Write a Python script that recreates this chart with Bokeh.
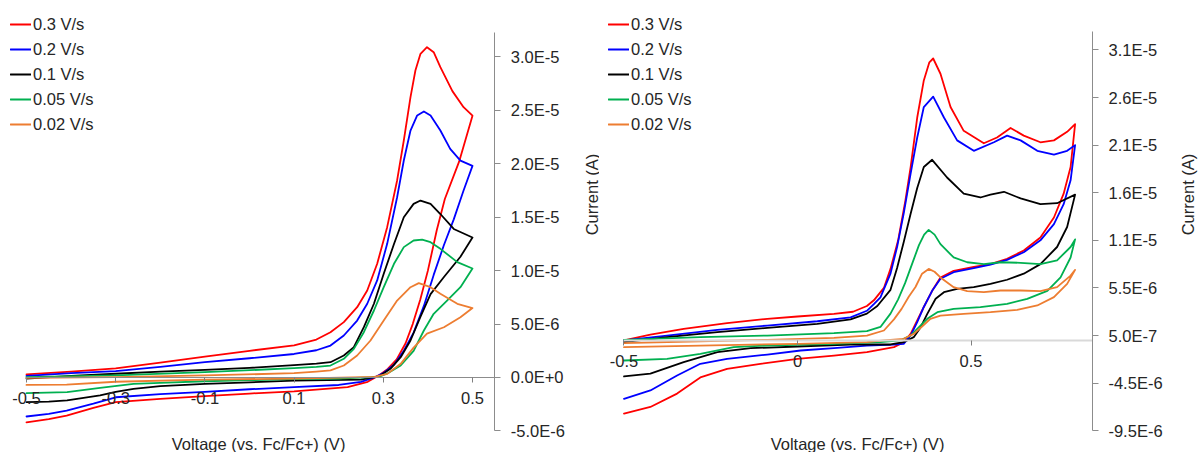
from bokeh.plotting import figure
from bokeh.models import Range1d, LinearAxis, FixedTicker, Label, Legend, LegendItem
from bokeh.layouts import row
from bokeh.embed import file_html
from bokeh.resources import INLINE

# ---------------- data (voltage in V, current in microamps) ----------------
series_names = ["0.3 V/s", "0.2 V/s", "0.1 V/s", "0.05 V/s", "0.02 V/s"]
series_colors = ["#FF0000", "#0000FF", "#000000", "#00B050", "#ED7D31"]

# Left panel (forward scan to 0.5 V, then reverse scan back to -0.5 V)
L03_V = [-0.5, -0.4, -0.3, -0.2, -0.1, 0.0, 0.1, 0.15, 0.1816, 0.2115, 0.2414, 0.264, 0.2863, 0.3087, 0.331, 0.346, 0.361, 0.372,
         0.3834, 0.398, 0.413, 0.428, 0.455, 0.48, 0.5,
         0.47, 0.438, 0.42, 0.40, 0.383, 0.366, 0.35, 0.33, 0.31, 0.29, 0.265, 0.22, 0.1, 0.0, -0.1, -0.2, -0.3, -0.35, -0.41, -0.45, -0.5]
L03_I = [0.3, 0.55, 0.85, 1.4, 1.95, 2.5, 3.0, 3.55, 4.24, 5.18, 6.58, 8.14, 10.64, 14.07, 18.44, 22.18, 26.23, 28.73,
         30.29, 30.91, 30.44, 29.04, 26.8, 25.3, 24.5,
         20.2, 16.7, 13.8, 10.0, 7.3, 5.0, 3.2, 1.7, 0.8, 0.2, -0.4, -0.9, -1.3, -1.5, -1.75, -2.0, -2.3, -2.85, -3.56, -3.9, -4.2]

L02_V = [-0.5, -0.4, -0.3, -0.2, -0.1, 0.0, 0.1, 0.15, 0.1816, 0.2115, 0.2414, 0.264, 0.2863, 0.3087, 0.331, 0.346, 0.361, 0.376,
         0.391, 0.406, 0.428, 0.45, 0.473, 0.5,
         0.48, 0.458, 0.436, 0.413, 0.391, 0.368, 0.346, 0.324, 0.301, 0.28, 0.25, 0.2, 0.1, 0.0, -0.1, -0.2, -0.3, -0.35, -0.41, -0.45, -0.5]
L02_I = [0.15, 0.4, 0.6, 1.0, 1.43, 1.8, 2.2, 2.55, 2.99, 3.93, 5.33, 6.9, 9.08, 12.51, 16.87, 20.31, 23.11, 24.52,
         24.89, 24.52, 23.11, 21.4, 20.3, 19.8,
         17.5, 14.8, 12.4, 9.6, 6.7, 4.2, 2.5, 1.2, 0.45, 0.0, -0.4, -0.7, -0.9, -1.1, -1.35, -1.55, -1.85, -2.45, -3.1, -3.4, -3.65]

L01_V = [-0.5, -0.4, -0.3, -0.2, -0.1, 0.0, 0.1, 0.15, 0.1816, 0.2115, 0.234, 0.2564, 0.279, 0.301, 0.324, 0.346, 0.368, 0.3834,
         0.406, 0.428, 0.458, 0.5,
         0.473, 0.436, 0.406, 0.383, 0.361, 0.339, 0.316, 0.29, 0.25, 0.1, 0.0, -0.1, -0.2, -0.26, -0.3, -0.335, -0.409, -0.45, -0.5]
L01_I = [-0.1, 0.15, 0.35, 0.55, 0.72, 0.9, 1.15, 1.3, 1.43, 2.06, 2.84, 4.71, 6.9, 9.7, 12.5, 15.0, 16.25, 16.56,
         16.25, 15.3, 13.9, 13.1,
         11.3, 9.4, 7.8, 5.64, 3.46, 1.9, 0.81, 0.1, -0.2, -0.3, -0.45, -0.6, -0.8, -1.06, -1.35, -1.68, -2.15, -2.25, -2.3]

L005_V = [-0.5, -0.3, -0.1, 0.1, 0.15, 0.1816, 0.2115, 0.234, 0.2564, 0.279, 0.301, 0.324, 0.346, 0.368, 0.3871, 0.406, 0.428, 0.466, 0.5,
          0.473, 0.443, 0.413, 0.391, 0.368, 0.339, 0.31, 0.29, 0.2, 0.1, 0.0, -0.1, -0.2, -0.26, -0.335, -0.409, -0.5]
L005_I = [0.03, 0.19, 0.5, 0.87, 1.0, 1.12, 1.75, 2.68, 4.24, 6.27, 8.45, 10.64, 12.2, 12.82, 12.91, 12.66, 12.04, 10.8, 10.2,
          8.45, 7.2, 5.96, 4.4, 2.5, 1.12, 0.4, 0.05, -0.1, -0.15, -0.25, -0.35, -0.5, -0.6, -0.97, -1.37, -1.47]

L002_V = [-0.5, -0.3, -0.1, 0.1, 0.15, 0.1816, 0.2115, 0.2414, 0.2713, 0.301, 0.331, 0.361, 0.3796, 0.406, 0.428, 0.466, 0.5,
          0.473, 0.436, 0.398, 0.368, 0.339, 0.309, 0.28, 0.1, -0.1, -0.3, -0.41, -0.5]
L002_I = [-0.03, 0.03, 0.19, 0.4, 0.55, 0.66, 1.12, 2.06, 3.46, 5.33, 7.2, 8.45, 8.83, 8.45, 7.83, 6.9, 6.5,
          5.64, 4.7, 4.1, 2.8, 1.28, 0.34, 0.05, -0.1, -0.2, -0.4, -0.66, -0.69]

# Right panel (forward scan to 0.8 V, then reverse scan back to -0.5 V)
R03_V = [-0.5, -0.424, -0.328, -0.203, -0.087, 0.0, 0.105, 0.16, 0.2, 0.22, 0.249, 0.268, 0.29, 0.311, 0.326, 0.345, 0.364, 0.38, 0.391,
         0.412, 0.441, 0.479, 0.537, 0.575, 0.614, 0.652, 0.70, 0.739, 0.777, 0.8,
         0.787, 0.767, 0.739, 0.70, 0.652, 0.604, 0.556, 0.508, 0.45, 0.412, 0.388, 0.364, 0.345, 0.326, 0.306, 0.278, 0.2, 0.105,
         0.0, -0.107, -0.203, -0.28, -0.347, -0.424, -0.5]
R03_I = [0.0, 0.6, 1.2, 1.8, 2.26, 2.5, 2.78, 3.0, 3.6, 4.2, 5.5, 7.5, 10.5, 14.7, 18.2, 23.4, 27.3, 29.2, 29.6,
         28.0, 24.5, 22.0, 20.7, 21.3, 22.3, 21.5, 20.8, 21.0, 21.9, 22.7,
         18.2, 15.4, 12.9, 10.8, 9.43, 8.56, 8.0, 7.7, 7.3, 6.6, 5.2, 3.5, 2.08, 0.68, -0.2, -0.72, -1.25, -1.6,
         -1.95, -2.47, -3.0, -3.9, -5.6, -7.0, -7.7]

R02_V = [-0.5, -0.376, -0.231, -0.087, 0.057, 0.153, 0.2, 0.22, 0.239, 0.268, 0.287, 0.306, 0.326, 0.345, 0.364, 0.391, 0.422, 0.46,
         0.508, 0.566, 0.604, 0.643, 0.691, 0.739, 0.777, 0.8,
         0.787, 0.767, 0.739, 0.70, 0.652, 0.604, 0.556, 0.508, 0.45, 0.412, 0.388, 0.364, 0.345, 0.326, 0.306, 0.278, 0.2, 0.105,
         0.009, -0.087, -0.203, -0.28, -0.347, -0.424, -0.5]
R02_I = [0.0, 0.5, 1.1, 1.55, 2.0, 2.4, 3.1, 3.8, 4.5, 7.0, 9.8, 13.3, 17.5, 21.3, 24.5, 25.6, 23.4, 21.0,
         19.9, 20.8, 21.5, 21.0, 19.9, 19.5, 19.9, 20.5,
         16.8, 14.3, 12.2, 10.5, 9.25, 8.45, 7.96, 7.57, 7.15, 6.46, 5.2, 3.5, 1.9, 0.5, -0.37, -0.45, -0.55, -0.83,
         -1.07, -1.5, -1.95, -2.47, -3.7, -5.27, -6.15]

R01_V = [-0.5, -0.376, -0.231, -0.087, 0.057, 0.153, 0.2, 0.23, 0.268, 0.287, 0.306, 0.326, 0.345, 0.364, 0.388, 0.431, 0.479, 0.527,
         0.556, 0.595, 0.643, 0.70, 0.748, 0.8,
         0.777, 0.748, 0.70, 0.652, 0.604, 0.556, 0.508, 0.46, 0.422, 0.398, 0.374, 0.355, 0.335, 0.306, 0.268, 0.153, 0.0,
         -0.135, -0.231, -0.328, -0.424, -0.5]
R01_I = [-0.2, 0.33, 0.85, 1.3, 1.73, 2.2, 2.8, 3.6, 5.3, 7.6, 10.3, 13.3, 16.0, 18.2, 18.96, 17.1, 15.4, 15.0,
         15.3, 15.6, 14.9, 14.3, 14.4, 15.3,
         11.9, 9.8, 8.0, 7.0, 6.36, 5.93, 5.58, 5.4, 5.05, 4.36, 2.78, 1.38, 0.33, -0.2, -0.44, -0.44, -0.65,
         -0.83, -1.25, -2.3, -3.5, -3.8]

R005_V = [-0.5, -0.28, -0.087, 0.105, 0.2, 0.239, 0.268, 0.29, 0.31, 0.33, 0.35, 0.365, 0.378, 0.395, 0.412, 0.45, 0.489, 0.537,
          0.585, 0.643, 0.70, 0.748, 0.787, 0.8,
          0.787, 0.758, 0.72, 0.662, 0.604, 0.527, 0.45, 0.403, 0.374, 0.35, 0.326, 0.297, 0.239, 0.105, -0.087, -0.184,
          -0.28, -0.376, -0.5]
R005_I = [0.05, 0.33, 0.5, 0.75, 0.96, 1.4, 2.8, 4.3, 6.0, 8.0, 10.0, 11.1, 11.6, 11.1, 10.1, 8.7, 8.2, 8.0,
          8.2, 8.14, 8.0, 8.4, 9.8, 10.6,
          8.7, 6.6, 5.2, 4.36, 3.83, 3.48, 3.3, 2.95, 2.26, 1.38, 0.5, 0.0, -0.2, -0.37, -0.55, -0.72,
          -1.42, -1.95, -2.12]

R002_V = [-0.5, -0.28, -0.087, 0.105, 0.2, 0.249, 0.278, 0.30, 0.321, 0.34, 0.359, 0.378, 0.395, 0.412, 0.45, 0.489, 0.537,
          0.585, 0.643, 0.70, 0.748, 0.787, 0.8,
          0.777, 0.739, 0.691, 0.633, 0.556, 0.479, 0.412, 0.383, 0.359, 0.335, 0.306, 0.249, 0.2, 0.0, -0.28, -0.5]
R002_I = [-0.3, -0.1, 0.05, 0.26, 0.5, 1.03, 2.2, 3.3, 4.6, 5.6, 7.0, 7.5, 7.2, 6.6, 5.58, 5.16, 5.05,
          5.23, 5.23, 5.16, 5.58, 6.8, 7.4,
          5.93, 4.53, 3.66, 3.2, 2.95, 2.78, 2.6, 2.26, 1.45, 0.68, 0.16, 0.0, -0.2, -0.37, -0.55, -0.72]

# axis ticks / labels / limits
left_xticks = [-0.5, -0.3, -0.1, 0.1, 0.3, 0.5]
left_xlabels = ["-0.5", "-0.3", "-0.1", "0.1", "0.3", "0.5"]
left_xbounds = (-0.5, 0.55)
left_yticks = [-5e-6, 0.0, 5e-6, 1e-5, 1.5e-5, 2e-5, 2.5e-5, 3e-5]
left_ylabels = ["-5.0E-6", "0.0E+0", "5.0E-6", "1.0E-5", "1.5E-5", "2.0E-5", "2.5E-5", "3.0E-5"]
left_ybounds = (-5e-6, 3.23e-5)

right_xticks = [-0.5, 0.0, 0.5]
right_xlabels = ["-0.5", "0", "0.5"]
right_xbounds = (-0.5, 0.85)
right_yticks = [-9.5e-6, -4.5e-6, 5e-7, 5.5e-6, 1.05e-5, 1.55e-5, 2.05e-5, 2.55e-5, 3.05e-5]
right_ylabels = ["-9.5E-6", "-4.5E-6", "5.0E-7", "5.5E-6", "1.1E-5", "1.6E-5", "2.1E-5", "2.6E-5", "3.1E-5"]
right_ybounds = (-9.5e-6, 3.24e-5)

x_title = "Voltage (vs. Fc/Fc+) (V)"
y_title = "Current (A)"
UA = 1e-6  # microamp -> amp

FONT = "Liberation Sans"
FS = "16.5px"
TXT = "#262626"
W, H = 599, 452


def make_panel(curves, view_x, view_y, xticks, xlabels, xbounds, yticks, ylabels, ybounds,
               xline_color, xline_width, legend_x, xtitle_x, ytitle_x):
    p = figure(width=W, height=H,
               x_range=Range1d(*view_x), y_range=Range1d(*view_y),
               x_axis_location=None, y_axis_location=None,
               output_backend="svg", toolbar_location=None,
               min_border=0)
    p.outline_line_color = None
    p.xgrid.visible = False
    p.ygrid.visible = False
    p.background_fill_color = "white"
    p.border_fill_color = "white"

    # vertical axis at the right end of the voltage scale
    ya = LinearAxis(fixed_location=xbounds[1], bounds=ybounds, ticker=FixedTicker(ticks=yticks),
                    major_label_overrides={t: s for t, s in zip(yticks, ylabels)})
    ya.axis_line_color = "#8c8c8c"
    ya.major_tick_line_color = "#8c8c8c"
    ya.major_tick_in = 0
    ya.major_tick_out = 6
    ya.minor_tick_line_color = None
    ya.major_label_standoff = 10
    ya.major_label_text_font = FONT
    ya.major_label_text_font_size = FS
    ya.major_label_text_color = TXT
    p.add_layout(ya, "right")

    # horizontal axis crossing at current = 0
    xa = LinearAxis(fixed_location=0, bounds=xbounds, ticker=FixedTicker(ticks=xticks),
                    major_label_overrides={t: s for t, s in zip(xticks, xlabels)})
    xa.axis_line_color = xline_color
    xa.axis_line_width = xline_width
    xa.major_tick_line_color = "#7f7f7f"
    xa.major_tick_in = 0
    xa.major_tick_out = 5
    xa.minor_tick_line_color = None
    xa.major_label_standoff = 10
    xa.major_label_text_font = FONT
    xa.major_label_text_font_size = FS
    xa.major_label_text_color = TXT
    p.add_layout(xa, "below")

    items = []
    for (v, i), name, col in zip(curves, series_names, series_colors):
        r = p.line(v, [c * UA for c in i], line_color=col, line_width=1.8,
                   line_join="round", line_cap="round")
        items.append(LegendItem(label=name, renderers=[r]))

    legend = Legend(items=items, location=(legend_x, 318), padding=0, margin=0,
                    spacing=5, label_height=20, glyph_height=20, glyph_width=21,
                    label_standoff=2, border_line_alpha=0, background_fill_alpha=0,
                    label_text_font=FONT, label_text_font_size=FS, label_text_color=TXT)
    p.add_layout(legend)

    p.add_layout(Label(x=xtitle_x, y=9, x_units="screen", y_units="screen", text=x_title,
                       text_align="center", text_baseline="middle",
                       text_font=FONT, text_font_size=FS, text_color=TXT))
    p.add_layout(Label(x=ytitle_x, y=258, x_units="screen", y_units="screen", text=y_title,
                       angle=90, angle_units="deg",
                       text_align="center", text_baseline="middle",
                       text_font=FONT, text_font_size=FS, text_color=TXT))
    return p


left = make_panel([(L03_V, L03_I), (L02_V, L02_I), (L01_V, L01_I), (L005_V, L005_I), (L002_V, L002_I)],
                  (-0.5583, 0.7848), (-7.019e-6, 35.28e-6),
                  left_xticks, left_xlabels, left_xbounds, left_yticks, left_ylabels, left_ybounds,
                  "#8c8c8c", 1, 10, 258, 591)
right = make_panel([(R03_V, R03_I), (R02_V, R02_I), (R01_V, R01_I), (R005_V, R005_I), (R002_V, R002_I)],
                   (-0.5706, 1.1556), (-11.786e-6, 35.693e-6),
                   right_xticks, right_xlabels, right_xbounds, right_yticks, right_ylabels, right_ybounds,
                   "#d9d9d9", 2, 9, 258, 588)

layout = row(left, right, spacing=0)
open("out.html", "w").write(file_html(layout, INLINE))
